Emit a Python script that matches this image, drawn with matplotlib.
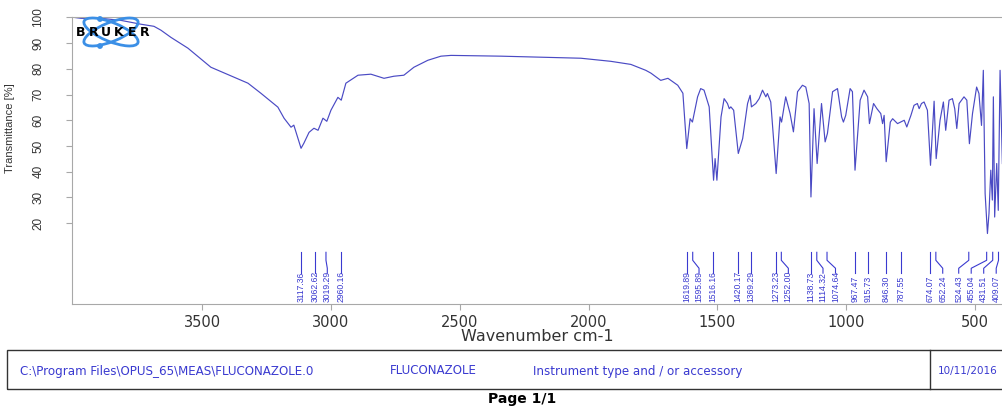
import matplotlib as mpl
mpl.use('Agg')
import matplotlib.pyplot as plt
from matplotlib.patches import Ellipse, Rectangle, Circle
from matplotlib.transforms import IdentityTransform

# spectrum (wavenumber cm-1, transmittance %)
wavenumber = [4000, 3970, 3892, 3815, 3737, 3687, 3660, 3621, 3555, 3466, 3376, 3322, 3272,
              3206, 3182, 3155, 3144, 3116, 3105, 3085, 3066, 3050, 3031, 3016, 3000, 2973,
              2960, 2942, 2895, 2845, 2794, 2756, 2717, 2678, 2624, 2573, 2534, 2340, 2185,
              2030, 1914, 1836, 1778, 1758, 1720, 1692, 1654, 1634, 1619, 1606, 1597, 1577,
              1565, 1552, 1532, 1515, 1509, 1502, 1486, 1474, 1461, 1454, 1448, 1437, 1419,
              1402, 1383, 1373, 1368, 1351, 1338, 1325, 1312, 1306, 1293, 1272, 1257, 1251,
              1235, 1218, 1205, 1189, 1170, 1157, 1144, 1137, 1125, 1113, 1096, 1082, 1073,
              1053, 1034, 1018, 1011, 1002, 985, 976, 966, 946, 931, 917, 910, 894, 881, 866,
              859, 853, 845, 829, 820, 801, 775, 765, 749, 737, 724, 717, 708, 698, 685, 673,
              659, 651, 636, 623, 614, 601, 588, 579, 571, 562, 543, 532, 522, 510, 494, 485,
              475, 468, 461, 452, 446, 439, 433, 429, 424, 416, 410, 403, 394]
transmittance = [100.0, 99.6, 99.6, 98.8, 97.3, 96.5, 95.0, 92.2, 88.0, 80.6, 76.7, 74.4, 70.5,
                 65.1, 60.8, 57.3, 58.1, 49.1, 51.1, 55.3, 56.9, 56.1, 60.8, 59.6, 63.9, 68.9,
                 67.8, 74.4, 77.5, 77.9, 76.3, 77.1, 77.5, 80.6, 83.3, 84.9, 85.2, 84.9, 84.5,
                 84.1, 82.9, 81.7, 79.4, 78.3, 75.5, 76.3, 73.6, 70.5, 49.0, 60.6, 59.3, 69.1,
                 72.3, 71.7, 65.2, 36.7, 45.1, 36.7, 61.3, 68.4, 66.5, 64.5, 65.2, 63.9, 47.1,
                 52.9, 66.5, 69.7, 65.2, 66.5, 68.4, 71.7, 69.1, 70.4, 67.1, 39.3, 61.3, 59.3,
                 69.1, 62.6, 55.5, 71.1, 73.6, 72.9, 66.5, 30.2, 64.5, 43.2, 66.5, 51.6, 54.9,
                 71.1, 72.3, 61.3, 59.3, 61.9, 72.3, 71.1, 40.6, 67.8, 71.7, 69.1, 58.7, 66.5,
                 64.5, 62.6, 58.7, 61.9, 43.9, 59.3, 60.6, 58.7, 60.0, 57.4, 61.9, 65.8, 66.5,
                 64.5, 66.5, 67.1, 63.9, 42.5, 67.4, 45.1, 60.0, 67.1, 56.1, 67.8, 68.4, 64.5,
                 56.8, 66.5, 69.1, 67.8, 50.9, 62.6, 72.9, 70.4, 58.0, 79.4, 31.5, 16.0, 23.8,
                 40.6, 29.0, 69.1, 22.4, 43.2, 25.0, 79.4, 43.2]

peaks = [3117.36, 3062.62, 3019.29, 2960.16, 1619.89, 1595.89, 1516.16, 1420.17, 1369.29,
         1273.23, 1252.00, 1138.73, 1114.32, 1074.64, 967.47, 915.73, 846.30, 787.55,
         674.07, 652.24, 524.43, 455.04, 431.51, 409.07]

yticks = [20, 30, 40, 50, 60, 70, 80, 90, 100]
xticks = [3500, 3000, 2500, 2000, 1500, 1000, 500]

narrow = ['Liberation Sans', 'DejaVu Sans']
blue = '#3a3ad0'
grey = '#a8a8a8'

W, H = 1002, 407
fig = plt.figure(figsize=(W / 100, H / 100), dpi=100)
ax = fig.add_axes([72 / W, 1 - 304.3 / H, (W - 72) / W, (304.3 - 17.3) / H])

ax.plot(wavenumber, transmittance, color='#4a4ac4', lw=0.85)
ax.set_xlim(4005, 395.5)
ax.set_ylim(-11.5, 100)

for side in ['left', 'bottom', 'top']:
    ax.spines[side].set_color(grey)
    ax.spines[side].set_linewidth(0.8)
ax.spines['right'].set_visible(False)

ax.set_yticks(yticks)
ax.set_yticklabels([str(v) for v in yticks], rotation=90, va='center',
                   family=narrow, fontsize=8.5, color='#333333')
ax.set_xticks(xticks)
ax.set_xticklabels([str(v) for v in xticks], family='DejaVu Sans', fontsize=10.5, color='#333333')
ax.tick_params(axis='both', color=grey, length=4, width=0.8)
ax.tick_params(axis='y', pad=16)
ax.tick_params(axis='x', pad=4)

ax.set_ylabel('Transmittance [%]', family=narrow, fontsize=8, color='#333333')
ax.yaxis.set_label_coords(-0.061, 0.614)
ax.set_xlabel('Wavenumber cm-1', family='DejaVu Sans', fontsize=11.5, color='#333333', labelpad=-1)

# peak labels, spread so they do not overlap
gap = 48.5
pos = []
for p in peaks:
    if pos:
        pos.append(min(p, pos[-1] - gap))
    else:
        pos.append(p)
pos[-1] = max(pos[-1], 418)
for i in range(len(pos) - 2, -1, -1):
    pos[i] = max(pos[i], pos[i + 1] + gap)

for p, lx in zip(peaks, pos):
    ax.plot([p, p, lx, lx], [8.7, 5.6, 2.5, 0.6], color=blue, lw=0.8)
    ax.text(lx, -10.6, f'{p:.2f}', rotation=90, ha='center', va='bottom',
            family=narrow, fontsize=6.2, color=blue)

# Bruker logo
ident = IdentityTransform()
for ang in (22, -22):
    fig.add_artist(Ellipse((111, H - 32), 58, 19, angle=ang, fill=False,
                           ec='#3b8fe6', lw=2.0, transform=ident))
for cx, cy in ((100, 19), (100, 46)):
    fig.add_artist(Circle((cx, H - cy), 2.2, color='#3b8fe6', transform=ident))
for i, ch in enumerate('BRUKER'):
    fig.text((80.5 + i * 12.8) / W, 1 - 32 / H, ch, family='DejaVu Sans', fontweight='bold',
             fontsize=9, color='black', va='center', ha='center')

# footer box
fig.add_artist(Rectangle((7 / W, 1 - 389 / H), 1.0, 39 / H, transform=fig.transFigure,
                         fill=False, ec='#333333', lw=1))
fig.add_artist(plt.Line2D([930 / W, 930 / W], [1 - 389 / H, 1 - 350 / H],
                          transform=fig.transFigure, color='#333333', lw=1))
fy = 1 - 371 / H
fig.text(20 / W, fy, 'C:\\Program Files\\OPUS_65\\MEAS\\FLUCONAZOLE.0', fontsize=8.6,
         color=blue, va='center')
fig.text(390 / W, fy, 'FLUCONAZOLE', fontsize=8.6, color=blue, va='center')
fig.text(533 / W, fy, 'Instrument type and / or accessory', fontsize=8.6, color=blue, va='center')
fig.text(938 / W, fy, '10/11/2016', fontsize=7.5, color=blue, va='center')
fig.text(522 / W, 1 - 399 / H, 'Page 1/1', fontsize=10, fontweight='bold', color='black',
         ha='center', va='center')

fig.savefig('out.png', dpi=100)
